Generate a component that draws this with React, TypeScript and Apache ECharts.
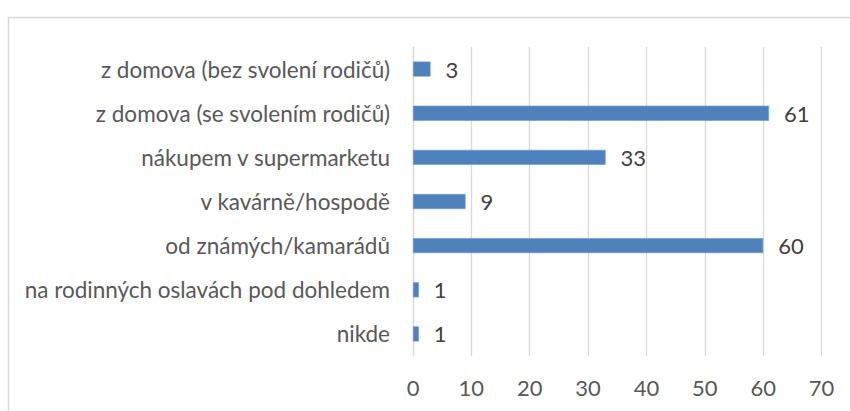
import React, { useEffect, useRef } from "react";
import * as echarts from "echarts";

const categories = [
  "z domova (bez svolení rodičů)",
  "z domova (se svolením rodičů)",
  "nákupem v supermarketu",
  "v kavárně/hospodě",
  "od známých/kamarádů",
  "na rodinných oslavách pod dohledem",
  "nikde",
];
const values = [3, 61, 33, 9, 60, 1, 1];
const xTicks = { min: 0, max: 70, interval: 10 };

export default function App() {
  const ref = useRef<HTMLDivElement>(null);
  useEffect(() => {
    if (!ref.current) return;
    const chart = echarts.init(ref.current, null, { renderer: "svg" });
    const font = "Lato, 'Open Sans', sans-serif";
    chart.setOption({
      animation: false,
      backgroundColor: "#ffffff",
      graphic: [
        {
          type: "rect",
          shape: { x: 8.5, y: 17.5, width: 900, height: 500 },
          style: { fill: "none", stroke: "#d9d9d9", lineWidth: 1.5 },
          silent: true,
        },
      ],
      grid: { left: 413, right: 28.5, top: 47, bottom: 55, containLabel: false },
      xAxis: {
        type: "value",
        min: xTicks.min,
        max: xTicks.max,
        interval: xTicks.interval,
        axisLine: { show: false },
        axisTick: { show: false },
        splitLine: { show: true, lineStyle: { color: "#d9d9d9", width: 1.3 } },
        axisLabel: { color: "#595959", fontSize: 22, fontFamily: font, margin: 20 },
      },
      yAxis: {
        type: "category",
        data: categories,
        inverse: true,
        axisLine: { show: true, lineStyle: { color: "#d9d9d9", width: 1.3 } },
        axisTick: { show: false },
        axisLabel: { color: "#595959", fontSize: 22.5, fontFamily: font, margin: 23 },
      },
      series: [
        {
          type: "bar",
          data: values,
          barWidth: 15,
          itemStyle: { color: "#4f81bd", borderColor: "#6f97cc", borderWidth: 0.6 },
          label: {
            show: true,
            position: "right",
            distance: 15,
            color: "#404040",
            fontSize: 22,
            fontFamily: font,
          },
        },
      ],
    });
    return () => chart.dispose();
  }, []);
  return (
    <div
      ref={ref}
      style={{ position: "absolute", left: 0, top: 0, width: 850, height: 411 }}
    />
  );
}
